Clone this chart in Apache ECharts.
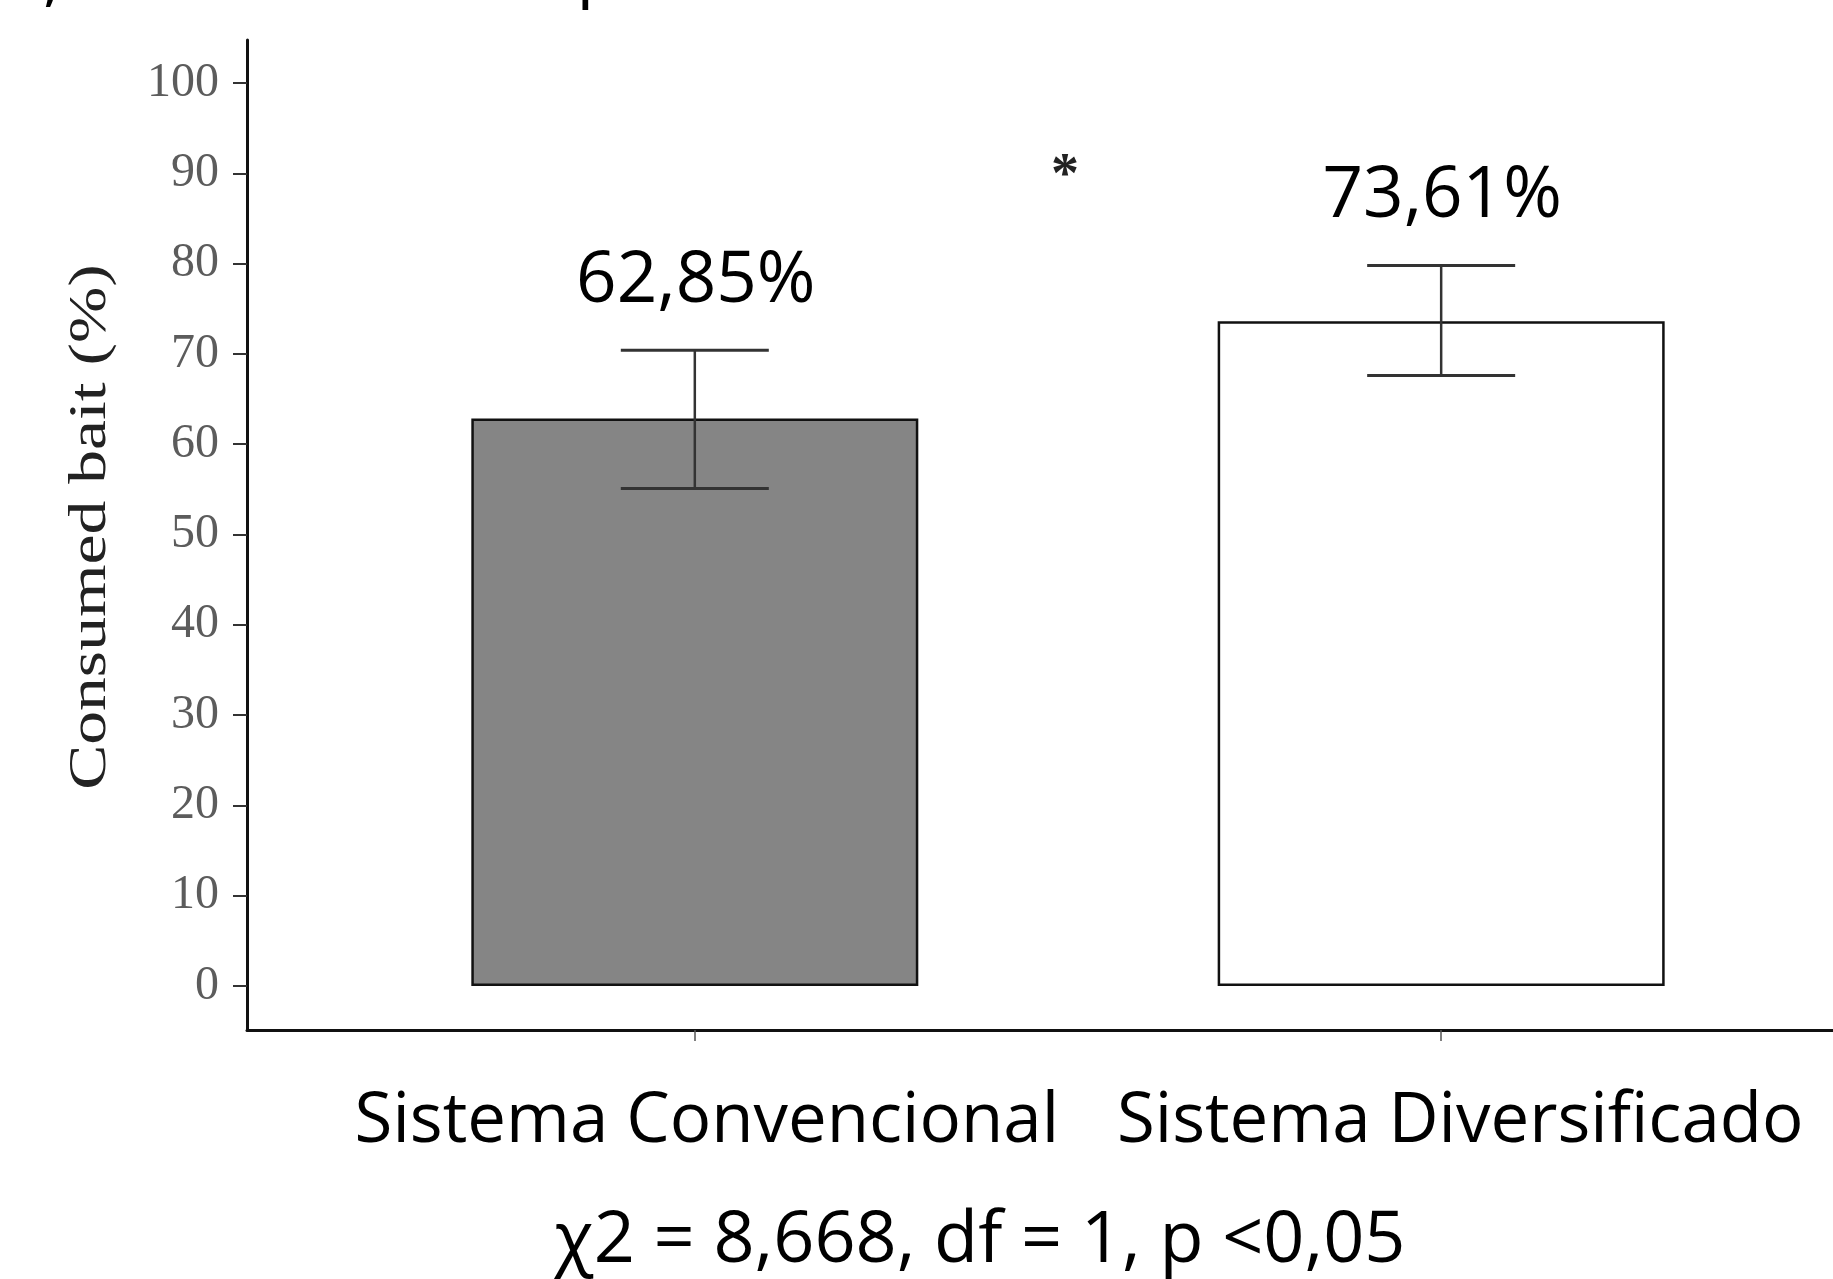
<!DOCTYPE html>
<html>
<head>
<meta charset="utf-8">
<script src="https://cdn.jsdelivr.net/npm/echarts@6/dist/echarts.min.js"></script>
<style>
  html, body { margin: 0; padding: 0; background: #ffffff; }
  #chart { width: 1833px; height: 1279px; }
</style>
</head>
<body>
<div id="chart"></div>
<script>
// ---- data ----
const categories = ['Sistema Convencional', 'Sistema Diversificado'];
const categoryPos = [1, 2];
const means = [62.85, 73.61];
const errLow = [55.1, 67.6];
const errHigh = [70.4, 79.8];
const yTicks = [0, 10, 20, 30, 40, 50, 60, 70, 80, 90, 100];
const barColors = ['#858585', '#ffffff'];
const yTitle = 'Consumed bait (%)';
const statText = 'χ2 = 8,668, df = 1, p <0,05';
const sigMark = '*';
const clippedTop = [',', 'p'];

// ---- helpers ----
const fmtPct = v => v.toFixed(2).replace('.', ',') + '%';
const calibriLike = '"Open Sans", "Noto Sans", sans-serif';
const serif = '"Liberation Serif", "DejaVu Serif", serif';

const barData = categoryPos.map((x, i) => ({
  value: [x, means[i]],
  itemStyle: { color: barColors[i] }
}));
const errData = categoryPos.map((x, i) => [x, errLow[i], errHigh[i], means[i]]);

const chart = echarts.init(document.getElementById('chart'), null, { renderer: 'canvas' });

const labelFont = { fontFamily: calibriLike, fontSize: 69, color: '#000' };

const option = {
  animation: false,
  backgroundColor: '#ffffff',
  grid: { left: 247, right: 0, top: 40, bottom: 249, containLabel: false },
  xAxis: {
    type: 'value',
    min: 0.4,
    max: 2.525,
    splitLine: { show: false },
    axisLine: { show: true, onZero: false, lineStyle: { color: '#111', width: 3 } },
    axisTick: { show: true, customValues: categoryPos, length: 11, lineStyle: { color: '#555', width: 1.5 } },
    axisLabel: {
      show: true,
      customValues: categoryPos,
      formatter: v => {
        const i = categoryPos.indexOf(Math.round(v));
        return i < 0 ? '' : '{c' + i + '|' + categories[i] + '}';
      },
      rich: {
        c0: Object.assign({ padding: [0, 0, 0, 24] }, labelFont),
        c1: Object.assign({ padding: [0, 0, 0, 38] }, labelFont)
      },
      fontFamily: calibriLike,
      fontSize: 69,
      color: '#000',
      margin: 58
    }
  },
  yAxis: {
    type: 'value',
    min: -4.88,
    max: 104.77,
    splitLine: { show: false },
    axisLine: { show: true, onZero: false, lineStyle: { color: '#111', width: 3 } },
    axisTick: { show: true, customValues: yTicks, length: 14, lineStyle: { color: '#333', width: 2 } },
    axisLabel: {
      show: true,
      customValues: yTicks,
      fontFamily: serif,
      fontSize: 48,
      color: '#5c5c5c',
      margin: 28
    }
  },
  series: [
    {
      type: 'bar',
      data: barData,
      barWidth: 447,
      itemStyle: { borderColor: '#111', borderWidth: 2.5 },
      z: 2
    },
    {
      type: 'custom',
      data: errData,
      z: 5,
      encode: { x: 0, y: [1, 2] },
      renderItem: function (params, api) {
        const x = api.value(0);
        const lo = api.coord([x, api.value(1)]);
        const hi = api.coord([x, api.value(2)]);
        const half = 74;
        const ls = { stroke: '#333', lineWidth: 3 };
        return {
          type: 'group',
          children: [
            { type: 'line', shape: { x1: hi[0], y1: hi[1], x2: lo[0], y2: lo[1] }, style: { stroke: '#333', lineWidth: 2.5 } },
            { type: 'line', shape: { x1: hi[0] - half, y1: hi[1], x2: hi[0] + half, y2: hi[1] }, style: ls },
            { type: 'line', shape: { x1: lo[0] - half, y1: lo[1], x2: lo[0] + half, y2: lo[1] }, style: ls },
            {
              type: 'text',
              style: {
                text: fmtPct(api.value(3)),
                x: hi[0] + 1,
                y: hi[1] - 69,
                align: 'center',
                verticalAlign: 'middle',
                font: '71px ' + calibriLike,
                fill: '#000'
              }
            }
          ]
        };
      }
    }
  ],
  graphic: [
    {
      type: 'text',
      x: 91, y: 527,
      rotation: Math.PI / 2,
      scaleX: 1.3,
      style: { text: yTitle, x: 0, y: 0, align: 'center', verticalAlign: 'middle', font: '52px ' + serif, fill: '#222' }
    },
    {
      type: 'text',
      style: { text: statText, x: 980, y: 1241, align: 'center', verticalAlign: 'middle', font: '72px ' + calibriLike, fill: '#000' }
    },
    {
      type: 'text',
      style: { text: sigMark, x: 1065, y: 178, align: 'center', verticalAlign: 'middle', font: 'bold 56px ' + serif, fill: '#222' }
    },
    {
      type: 'text',
      style: { text: clippedTop[0], x: 52, y: -22, align: 'center', verticalAlign: 'middle', font: '70px ' + calibriLike, fill: '#000' }
    },
    {
      type: 'text',
      style: { text: clippedTop[1], x: 598, y: -27, align: 'center', verticalAlign: 'middle', font: '70px ' + calibriLike, fill: '#000' }
    }
  ]
};

chart.setOption(option);
</script>
</body>
</html>
